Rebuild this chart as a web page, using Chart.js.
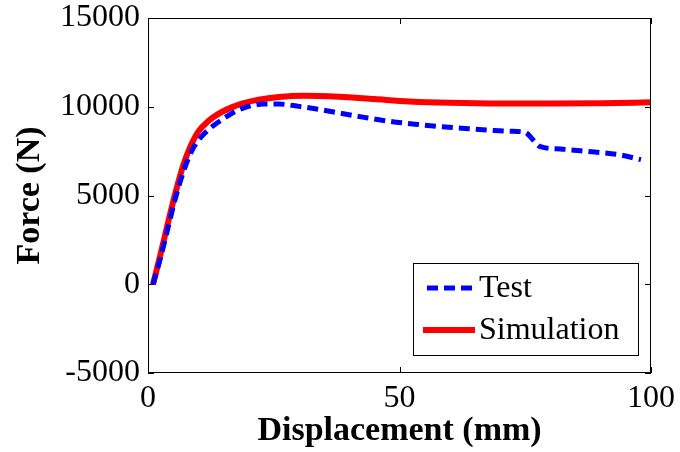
<!DOCTYPE html>
<html>
<head>
<meta charset="utf-8">
<script src="https://cdn.jsdelivr.net/npm/chart.js@4"></script>
<style>
  html, body { margin: 0; padding: 0; background: #fff; }
  #wrap { width: 680px; height: 452px; }
</style>
</head>
<body>
<div id="wrap"><canvas id="chart"></canvas></div>
<script>
// 読み取ったデータ (変位 mm, 荷重 N)
var testDisp = [1, 2.5, 4, 5.5, 7, 8.5, 10, 12, 15, 17.5, 20, 23, 26, 30, 34, 38, 43, 48, 53, 58, 63, 68, 72, 75, 76.5, 78, 82, 86, 90, 94, 98];
var testForce = [0, 1500, 3200, 4900, 6300, 7400, 8100, 8700, 9330, 9750, 10020, 10150, 10150, 10020, 9850, 9650, 9400, 9180, 9020, 8880, 8780, 8680, 8620, 8560, 8150, 7750, 7620, 7520, 7420, 7280, 7020];

var simDisp = [1, 2.5, 4, 5.5, 7, 8.5, 10, 12, 14, 16.5, 19, 22, 26, 31, 38, 45, 52, 60, 70, 80, 90, 100];
var simForce = [0, 1700, 3500, 5200, 6700, 7800, 8600, 9200, 9600, 9950, 10200, 10400, 10550, 10620, 10560, 10430, 10300, 10220, 10180, 10180, 10200, 10250];

var xTicks = [0, 50, 100];
var yTicks = [-5000, 0, 5000, 10000, 15000];

function toPoints(xs, ys) {
  return xs.map(function(x, i) { return { x: x, y: ys[i] }; });
}

var serif = "'Liberation Serif', 'Times New Roman', serif";

// 枠線と内向きの目盛り
var framePlugin = {
  id: 'frame',
  afterDraw: function(chart) {
    var ctx = chart.ctx;
    var a = chart.chartArea;
    var xs = chart.scales.x, ys = chart.scales.y;
    var len = 6;
    ctx.save();
    ctx.strokeStyle = '#000';
    ctx.lineWidth = 1;
    ctx.strokeRect(a.left + 0.5, a.top + 0.5, a.right - a.left - 1, a.bottom - a.top - 1);
    ctx.beginPath();
    xTicks.forEach(function(v) {
      var px = Math.round(xs.getPixelForValue(v)) + 0.5;
      ctx.moveTo(px, a.bottom); ctx.lineTo(px, a.bottom - len);
      ctx.moveTo(px, a.top); ctx.lineTo(px, a.top + len);
    });
    yTicks.forEach(function(v) {
      var py = Math.round(ys.getPixelForValue(v)) + 0.5;
      ctx.moveTo(a.left, py); ctx.lineTo(a.left + len, py);
      ctx.moveTo(a.right, py); ctx.lineTo(a.right - len, py);
    });
    ctx.stroke();
    ctx.restore();
  }
};

// 図中の凡例 (右下)
var legendPlugin = {
  id: 'boxLegend',
  afterDraw: function(chart) {
    var ctx = chart.ctx;
    var a = chart.chartArea;
    var w = 225, h = 92;
    var x0 = a.right - 13 - w, y0 = a.bottom - 18 - h;
    ctx.save();
    ctx.fillStyle = '#fff';
    ctx.fillRect(x0, y0, w, h);
    ctx.strokeStyle = '#000';
    ctx.lineWidth = 1;
    ctx.strokeRect(x0 + 0.5, y0 + 0.5, w, h);
    ctx.font = '32px ' + serif;
    ctx.textBaseline = 'middle';
    chart.data.datasets.forEach(function(ds, i) {
      var cy = y0 + 25 + i * 42;
      ctx.beginPath();
      ctx.strokeStyle = ds.borderColor;
      ctx.lineWidth = ds.borderWidth;
      ctx.setLineDash(ds.borderDash || []);
      ctx.moveTo(x0 + (i === 0 ? 14 : 10), cy);
      ctx.lineTo(x0 + 62, cy);
      ctx.stroke();
      ctx.setLineDash([]);
      ctx.fillStyle = '#000';
      ctx.fillText(ds.label, x0 + 66, cy + 1);
    });
    ctx.restore();
  }
};

function plainLabel(v) { return String(v); }

var ctx = document.getElementById('chart').getContext('2d');
var myChart = new Chart(ctx, {
  type: 'line',
  data: {
    datasets: [
      {
        label: 'Test',
        data: toPoints(testDisp, testForce),
        borderColor: 'rgb(0,0,255)',
        borderWidth: 5,
        borderDash: [11, 6],
        pointRadius: 0,
        fill: false,
        cubicInterpolationMode: 'monotone'
      },
      {
        label: 'Simulation',
        data: toPoints(simDisp, simForce),
        borderColor: 'rgb(255,0,0)',
        borderWidth: 6,
        pointRadius: 0,
        fill: false,
        cubicInterpolationMode: 'monotone'
      }
    ]
  },
  options: {
    responsive: true,
    maintainAspectRatio: false,
    animation: false,
    layout: { padding: { top: 18, right: 29, left: 10, bottom: 0 } },
    plugins: {
      legend: { display: false },
      tooltip: { enabled: false }
    },
    scales: {
      x: {
        type: 'linear',
        min: 0, max: 100,
        afterBuildTicks: function(s) { s.ticks = xTicks.map(function(v) { return { value: v }; }); },
        afterFit: function(s) { s.height = 79; s.paddingLeft = 0; s.paddingRight = 0; },
        grid: { display: false, drawTicks: false },
        border: { display: false },
        ticks: { color: '#000', padding: 6, maxRotation: 0, callback: plainLabel,
                 font: { family: serif, size: 32 } },
        title: { display: true, text: 'Displacement (mm)', color: '#000', padding: { top: 0, bottom: 0 },
                 font: { family: serif, size: 34, weight: 'bold' } }
      },
      y: {
        min: -5000, max: 15000,
        afterBuildTicks: function(s) { s.ticks = yTicks.map(function(v) { return { value: v }; }); },
        afterFit: function(s) { s.width = 138; s.paddingTop = 0; s.paddingBottom = 0; },
        grid: { display: false, drawTicks: false },
        border: { display: false },
        ticks: { color: '#000', padding: 8, callback: plainLabel,
                 font: { family: serif, size: 32 } },
        title: { display: true, text: 'Force (N)', color: '#000', padding: { top: 0, bottom: 0 },
                 font: { family: serif, size: 34, weight: 'bold' } }
      }
    }
  },
  plugins: [framePlugin, legendPlugin]
});
</script>
</body>
</html>
